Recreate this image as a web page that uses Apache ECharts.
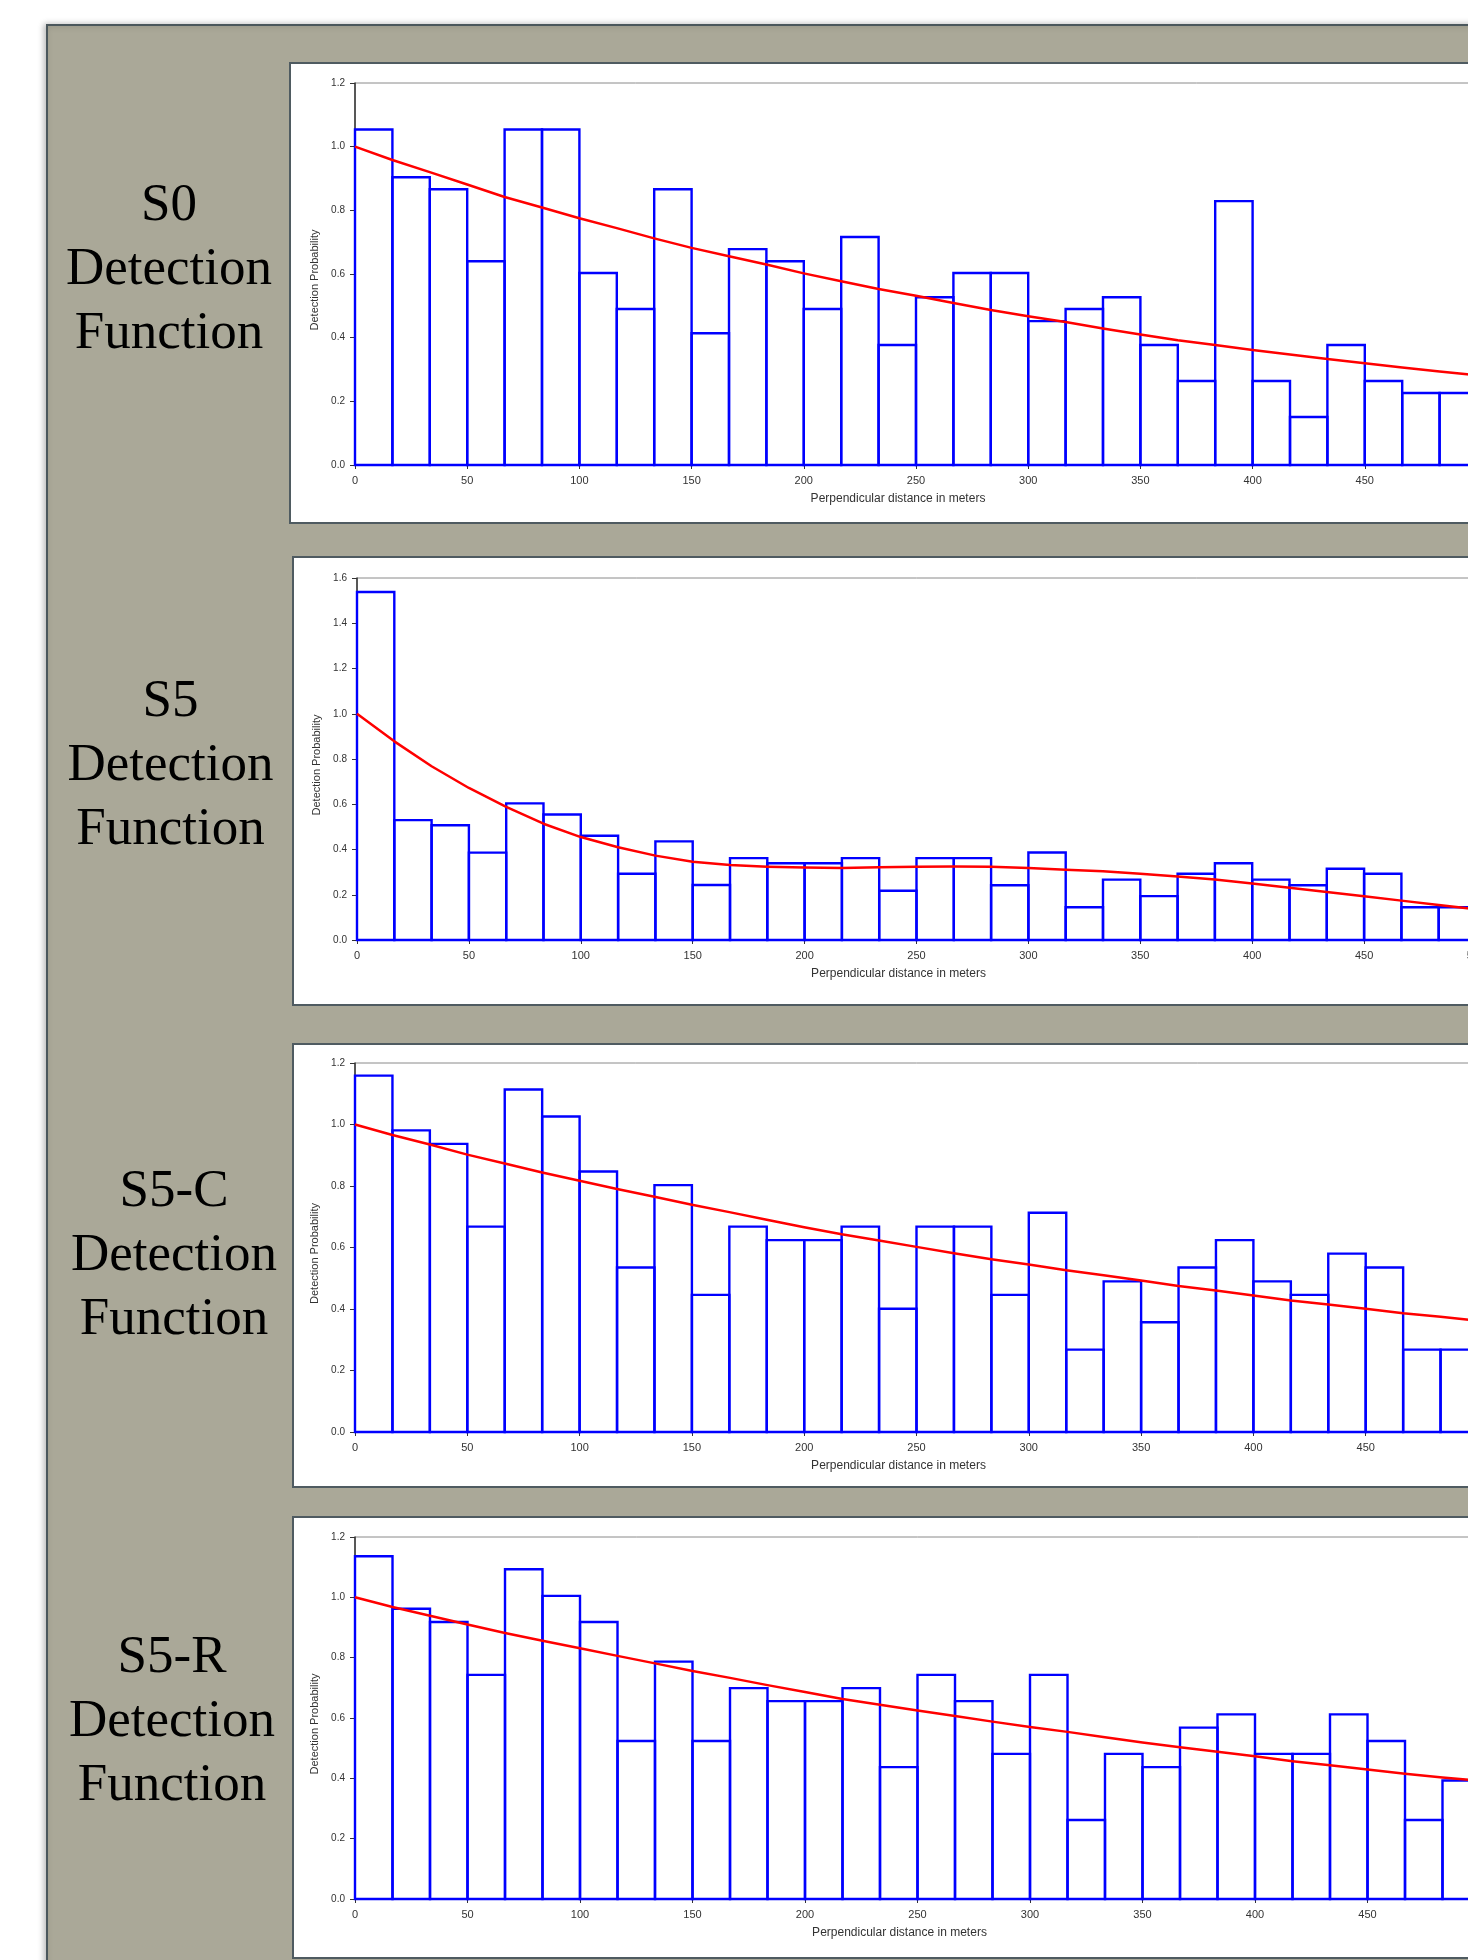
<!DOCTYPE html>
<html>
<head>
<meta charset="utf-8">
<title>Detection Functions</title>
<script src="https://cdn.jsdelivr.net/npm/echarts@6/dist/echarts.min.js"></script>
<style>
  html, body { margin: 0; padding: 0; width: 1468px; height: 1960px; overflow: hidden; background: #ffffff; }
  #chart { position: absolute; left: 0; top: 0; width: 1600px; height: 1960px; }
</style>
</head>
<body>
<div id="chart"></div>
<script>
// Distance bins (metres): 30 bins of equal width covering 0-500 m
const binEdges = [0, 16.67, 33.33, 50, 66.67, 83.33, 100, 116.67, 133.33, 150, 166.67, 183.33,
  200, 216.67, 233.33, 250, 266.67, 283.33, 300, 316.67, 333.33, 350, 366.67, 383.33,
  400, 416.67, 433.33, 450, 466.67, 483.33, 500];

// Axis tick settings
const xTicks = { min: 0, max: 500, interval: 50 };
const yMaxByPanel = [1.2, 1.6, 1.2, 1.2];

// Panel titles
const panelTitles = [
  ['S0', 'Detection', 'Function'],
  ['S5', 'Detection', 'Function'],
  ['S5-C', 'Detection', 'Function'],
  ['S5-R', 'Detection', 'Function']
];

// Scaled histogram heights per bin
const histS0 = [1.054, 0.904, 0.866, 0.640, 1.054, 1.054, 0.603, 0.490, 0.866, 0.414,
  0.678, 0.640, 0.490, 0.716, 0.377, 0.527, 0.603, 0.603, 0.452, 0.490,
  0.527, 0.377, 0.264, 0.829, 0.264, 0.151, 0.377, 0.264, 0.226, 0.226];
const histS5 = [1.538, 0.530, 0.507, 0.386, 0.604, 0.555, 0.461, 0.293, 0.436, 0.243,
  0.362, 0.339, 0.339, 0.362, 0.218, 0.362, 0.362, 0.242, 0.387, 0.145,
  0.267, 0.194, 0.293, 0.339, 0.267, 0.242, 0.315, 0.293, 0.145, 0.145];
const histS5C = [1.159, 0.981, 0.937, 0.668, 1.114, 1.026, 0.847, 0.535, 0.803, 0.446,
  0.668, 0.624, 0.624, 0.668, 0.401, 0.668, 0.668, 0.446, 0.713, 0.268,
  0.490, 0.357, 0.535, 0.624, 0.490, 0.446, 0.580, 0.535, 0.268, 0.268];
const histS5R = [1.136, 0.962, 0.918, 0.743, 1.093, 1.005, 0.918, 0.524, 0.787, 0.524,
  0.699, 0.656, 0.656, 0.699, 0.437, 0.743, 0.656, 0.481, 0.743, 0.262,
  0.481, 0.437, 0.568, 0.612, 0.481, 0.481, 0.612, 0.524, 0.262, 0.393];

// Fitted detection probability, sampled at the bin edges
const fitS0 = [1.000, 0.958, 0.920, 0.881, 0.842, 0.809, 0.775, 0.744, 0.712, 0.682,
  0.656, 0.630, 0.602, 0.577, 0.553, 0.532, 0.509, 0.487, 0.467, 0.449,
  0.429, 0.410, 0.392, 0.377, 0.361, 0.347, 0.333, 0.320, 0.306, 0.294, 0.282];
const fitS5 = [1.000, 0.878, 0.768, 0.672, 0.588, 0.514, 0.455, 0.410, 0.373, 0.346,
  0.331, 0.324, 0.320, 0.318, 0.321, 0.324, 0.325, 0.324, 0.318, 0.311,
  0.304, 0.293, 0.281, 0.267, 0.250, 0.231, 0.212, 0.193, 0.174, 0.155, 0.136];
const fitS5C = [1.000, 0.966, 0.935, 0.902, 0.873, 0.844, 0.817, 0.790, 0.765, 0.739,
  0.715, 0.690, 0.666, 0.643, 0.623, 0.602, 0.581, 0.562, 0.545, 0.526,
  0.510, 0.493, 0.475, 0.460, 0.444, 0.428, 0.415, 0.401, 0.386, 0.375, 0.362];
const fitS5R = [1.000, 0.968, 0.939, 0.910, 0.882, 0.856, 0.831, 0.806, 0.781, 0.756,
  0.733, 0.709, 0.686, 0.663, 0.644, 0.625, 0.607, 0.588, 0.570, 0.554,
  0.536, 0.519, 0.503, 0.488, 0.473, 0.457, 0.443, 0.429, 0.415, 0.403, 0.392];

const histograms = [histS0, histS5, histS5C, histS5R];
const fits = [fitS0, fitS5, fitS5C, fitS5R];

// ---- layout (pixels) ----
const gridBoxes = [
  { left: 355, top: 83, right: 123, height: 382 },
  { left: 357, top: 578, right: 124, height: 362 },
  { left: 355, top: 1063, right: 122, height: 369 },
  { left: 355, top: 1537, right: 120, height: 362 }
];
const cardBoxes = [
  { x: 290, y: 63, h: 460 },
  { x: 293, y: 557, h: 448 },
  { x: 293, y: 1044, h: 443 },
  { x: 293, y: 1517, h: 441 }
];
const titlePos = [
  { x: 169, y: [206, 270, 334] },
  { x: 170.5, y: [702, 766, 830] },
  { x: 174, y: [1192, 1256, 1320] },
  { x: 172, y: [1658, 1722, 1786] }
];

const sansFont = '"Liberation Sans", Arial, sans-serif';
const serifFont = '"Liberation Serif", "Times New Roman", serif';

const chart = echarts.init(document.getElementById('chart'), null, { renderer: 'canvas' });

const graphics = [{
  type: 'rect', z: -20,
  shape: { x: 47, y: 25, width: 1700, height: 2100 },
  style: { fill: '#aaa898', stroke: '#4b575c', lineWidth: 2,
    shadowColor: 'rgba(0,0,0,0.25)', shadowBlur: 6, shadowOffsetX: -2 }
}];
cardBoxes.forEach(b => {
  graphics.push({
    type: 'rect', z: -10,
    shape: { x: b.x, y: b.y, width: 1500, height: b.h },
    style: { fill: '#ffffff', stroke: '#4f5b61', lineWidth: 2 }
  });
});
panelTitles.forEach((lines, i) => {
  lines.forEach((line, j) => {
    graphics.push({
      type: 'text', z: 5,
      style: {
        text: line, x: titlePos[i].x, y: titlePos[i].y[j],
        font: '53px ' + serifFont, fill: '#000000',
        align: 'center', verticalAlign: 'middle'
      }
    });
  });
});

const grids = [], xAxes = [], yAxes = [], series = [];
gridBoxes.forEach((g, i) => {
  grids.push({ left: g.left, top: g.top, right: g.right, height: g.height,
    show: true, borderColor: '#8a8a8a', borderWidth: 1, backgroundColor: 'transparent' });
  xAxes.push({
    type: 'value', gridIndex: i, min: xTicks.min, max: xTicks.max, interval: xTicks.interval,
    name: 'Perpendicular distance in meters', nameLocation: 'middle', nameGap: 28,
    nameTextStyle: { fontFamily: sansFont, fontSize: 12, color: '#333333', padding: [0, 36, 0, 0] },
    axisLine: { show: true, onZero: false, lineStyle: { color: '#555555', width: 1.5 } },
    axisTick: { show: true, length: 4, lineStyle: { color: '#333333' } },
    axisLabel: { fontFamily: sansFont, fontSize: 11, color: '#333333', margin: 10 },
    splitLine: { show: false }
  });
  yAxes.push({
    type: 'value', gridIndex: i, min: 0, max: yMaxByPanel[i], interval: 0.2,
    name: 'Detection Probability', nameLocation: 'middle', nameGap: 32,
    nameTextStyle: { fontFamily: sansFont, fontSize: 11, color: '#333333', padding: [0, 12, 0, 0] },
    axisLine: { show: true, lineStyle: { color: '#333333', width: 1.5 } },
    axisTick: { show: true, length: 5, lineStyle: { color: '#333333' } },
    axisLabel: { fontFamily: sansFont, fontSize: 10, color: '#333333', margin: 10,
      formatter: v => v.toFixed(1) },
    splitLine: { show: false }
  });
  const bins = histograms[i].map((v, k) => [binEdges[k], binEdges[k + 1], v]);
  series.push({
    type: 'custom', xAxisIndex: i, yAxisIndex: i, z: 2,
    data: bins,
    encode: { x: [0, 1], y: 2 },
    renderItem: (params, api) => {
      const topLeft = api.coord([api.value(0), api.value(2)]);
      const bottomRight = api.coord([api.value(1), 0]);
      return {
        type: 'rect',
        shape: { x: topLeft[0], y: topLeft[1],
          width: bottomRight[0] - topLeft[0], height: bottomRight[1] - topLeft[1] },
        style: { fill: 'none', stroke: '#0000ff', lineWidth: 2.4 }
      };
    }
  });
  series.push({
    type: 'line', xAxisIndex: i, yAxisIndex: i, z: 4,
    data: fits[i].map((v, k) => [binEdges[k], v]),
    smooth: false, symbol: 'none',
    lineStyle: { color: '#ff0000', width: 2.5, join: 'round' }
  });
});

chart.setOption({
  animation: false,
  backgroundColor: '#ffffff',
  graphic: graphics,
  grid: grids,
  xAxis: xAxes,
  yAxis: yAxes,
  series: series
});
</script>
</body>
</html>
